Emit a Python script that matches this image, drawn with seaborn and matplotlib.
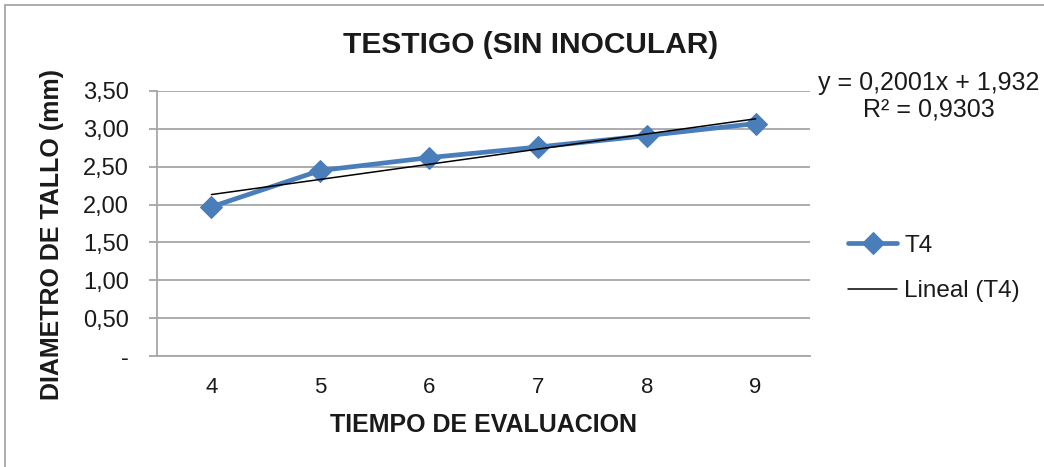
import matplotlib
matplotlib.use("Agg")
import matplotlib.pyplot as plt
import seaborn as sns
import pandas as pd
from matplotlib.patches import Rectangle

# data
tiempo = [4, 5, 6, 7, 8, 9]
diametro_t4 = [1.97, 2.45, 2.62, 2.76, 2.91, 3.07]
# Excel linear trendline (x = point index 1..n)
slope = 0.2001
intercept = 1.932
r2 = 0.9303
y_ticks = [0, 0.5, 1.0, 1.5, 2.0, 2.5, 3.0, 3.5]
y_ticklabels = ["-", "0,50", "1,00", "1,50", "2,00", "2,50", "3,00", "3,50"]

df = pd.DataFrame({"tiempo": tiempo, "T4": diametro_t4})
df["idx"] = range(1, len(df) + 1)
df["trend"] = slope * df["idx"] + intercept

sns.set_style("white")
plt.rcParams["font.family"] = ["Liberation Sans", "DejaVu Sans"]
txt = "#1a1a1a"

fig = plt.figure(figsize=(10.44, 4.67), dpi=100)
ax = fig.add_axes([157 / 1044, 1 - 356 / 467, (810 - 157) / 1044, (356 - 91) / 467])

sns.lineplot(data=df, x="tiempo", y="T4", ax=ax, color="#4A7EBB", linewidth=3.4,
             marker="D", markersize=11, markeredgecolor="#4A7EBB", label="T4", zorder=3)
sns.lineplot(data=df, x="tiempo", y="trend", ax=ax, color="black", linewidth=1.1,
             label="Lineal (T4)", zorder=4)

ax.set_xlim(3.5, 9.5)
ax.set_ylim(0, 3.5)
ax.set_yticks(y_ticks)
ax.set_yticklabels(y_ticklabels)
ax.set_xticks(tiempo)
ax.set_xticklabels([str(t) for t in tiempo])
ax.yaxis.grid(True, color="#a6a6a6", linewidth=1.3)
ax.xaxis.grid(False)
for s in ["top", "right"]:
    ax.spines[s].set_visible(False)
ax.spines["left"].set_color("#a6a6a6")
ax.spines["bottom"].set_color("#a6a6a6")
ax.spines["left"].set_linewidth(1.3)
ax.spines["bottom"].set_linewidth(1.3)
ax.tick_params(axis="y", length=6, width=1.3, color="#a6a6a6", labelsize=17,
               labelcolor=txt, pad=14, left=True)
ax.tick_params(axis="x", length=0, labelsize=16, labelcolor=txt, pad=15)

ax.set_xlabel("TIEMPO DE EVALUACION", fontsize=18, fontweight="bold", color=txt)
ax.set_ylabel("DIAMETRO DE TALLO (mm)", fontsize=18, fontweight="bold", color=txt)
ax.xaxis.set_label_coords(0.5, (356 - 425) / 265)
ax.yaxis.set_label_coords((52 - 157) / 653, (356 - 234) / 265)
ax.xaxis.label.set_va("center")
ax.yaxis.label.set_va("center")
fig.text(531 / 1044, 1 - 45 / 467, "TESTIGO (SIN INOCULAR)", fontsize=21.5, fontweight="bold",
         color=txt, ha="center", va="center")

fig.text(929 / 1044, 1 - 83 / 467, f"y = {slope:.4f}x + {intercept:.3f}".replace(".", ","),
         fontsize=18, color=txt, ha="center", va="center")
fig.text(929 / 1044, 1 - 110 / 467, f"R² = {r2:.4f}".replace(".", ","),
         fontsize=18, color=txt, ha="center", va="center")

leg = ax.legend(loc="center left", bbox_to_anchor=(1.025, 0.33), frameon=False,
                fontsize=17.5, handlelength=2.0, labelspacing=0.95, handletextpad=0.3)
for t in leg.get_texts():
    t.set_color(txt)

fig.patches.append(Rectangle((5 / 1044, -0.01), 1.02, 1 - 5 / 467 + 0.01,
                             transform=fig.transFigure, fill=False,
                             edgecolor="#a0a0a0", linewidth=1.2))

fig.savefig("out.png", dpi=100)
